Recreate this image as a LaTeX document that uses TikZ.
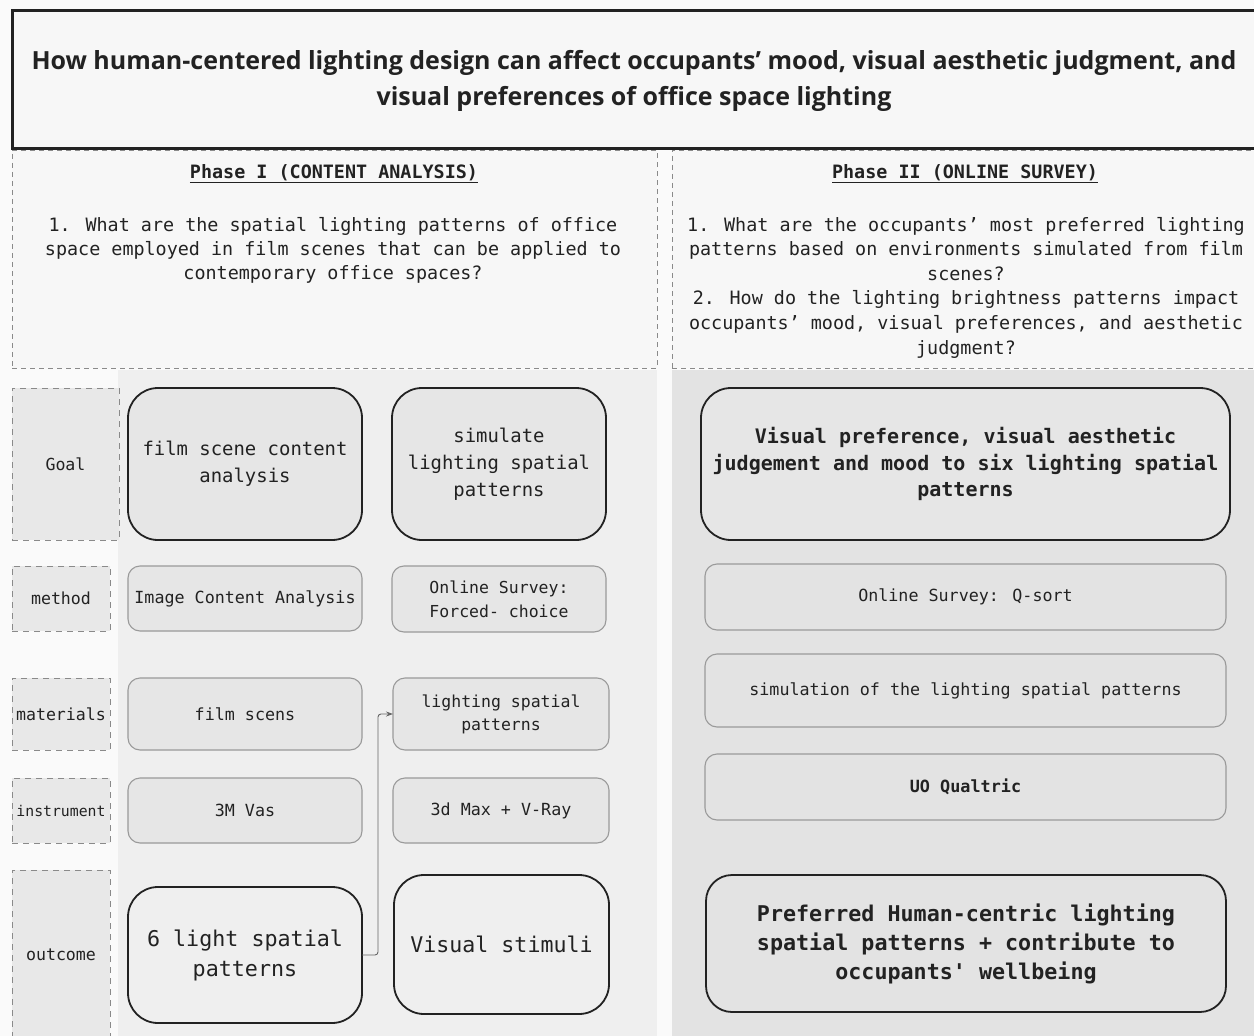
\documentclass[tikz,border=0pt]{standalone}
\usepackage{fontspec}
\newfontfamily\monof{DejaVu Sans Mono}
\newfontfamily\titlef{Open Sans}
\usetikzlibrary{arrows.meta}

\definecolor{ink}{HTML}{222222}
\definecolor{pagebg}{HTML}{FAFAFA}
\definecolor{panelbg}{HTML}{F7F7F7}
\definecolor{leftbg}{HTML}{EFEFEF}
\definecolor{rightbg}{HTML}{E3E3E3}
\definecolor{lblfill}{HTML}{E8E8E8}
\definecolor{boxfill}{HTML}{E6E6E6}
\definecolor{dashc}{HTML}{8A8A8A}
\definecolor{thinc}{HTML}{9A9A9A}
\definecolor{connc}{HTML}{666666}

% font size in pt (= px of the drawing) with baseline skip
\newcommand\fs[2]{\fontsize{#1}{#2}\selectfont\monof}

\begin{document}
\begin{tikzpicture}[x=1pt,y=-1pt,
  every node/.style={inner sep=0pt, outer sep=0pt, text=ink, align=center},
  titlebox/.style={draw=ink, line width=3pt, fill=panelbg},
  phasebox/.style={draw=dashc, line width=0.9pt, dash pattern=on 5pt off 4pt, fill=panelbg},
  lbl/.style={draw=dashc, line width=0.9pt, dash pattern=on 6pt off 5pt, fill=lblfill, font=\fs{16.6}{20}},
  bigbox/.style={draw=ink, line width=1.8pt, rounded corners=30pt, fill=boxfill},
  smallbox/.style={draw=thinc, line width=1.1pt, rounded corners=12pt, fill=boxfill},
  conn/.style={draw=connc, line width=0.9pt, rounded corners=3pt, -{Stealth[length=7pt,width=5pt]}},
]
\useasboundingbox (0,0) rectangle (1254,1036);
\fill[pagebg] (0,0) rectangle (1254,1036);

% section backgrounds
\fill[leftbg] (118,370) rectangle (657,1036);
\fill[rightbg] (672,370) rectangle (1254,1036);

% title
\node[titlebox, minimum width=1250pt, minimum height=138pt] (title) at (637,79) {};
\node[font={\titlef\bfseries\fontsize{25}{36}\selectfont}] (titletext) at (634,81) {%
  How human-centered lighting design can affect occupants’ mood, visual aesthetic judgment, and\\
  visual preferences of office space lighting};

% phase panels
\node[phasebox, minimum width=645pt, minimum height=218pt] (phaseA) at (334.5,259) {};
\node[phasebox, minimum width=590pt, minimum height=218pt] (phaseB) at (967,259) {};

\node[font={\fs{18.4}{22}\bfseries}] (headA) at (334,174) {\underline{Phase I (CONTENT ANALYSIS)}};
\node[font={\fs{18.4}{22}\bfseries}] (headB) at (965,174) {\underline{Phase II (ONLINE SURVEY)}};

\node[font=\fs{18.4}{24}] (qA) at (333,250) {%
  1. What are the spatial lighting patterns of office\\
  space employed in film scenes that can be applied to\\
  contemporary office spaces?};
\node[font=\fs{18.4}{24.6}] (qB) at (966,287.5) {%
  1. What are the occupants’ most preferred lighting\\
  patterns based on environments simulated from film\\
  scenes?\\
  2. How do the lighting brightness patterns impact\\
  occupants’ mood, visual preferences, and aesthetic\\
  judgment?};

% row labels
\node[lbl, minimum width=107pt, minimum height=152pt] (lgoal) at (65.5,464) {Goal};
\node[lbl, minimum width=98pt, minimum height=65pt] (lmethod) at (61,598.5) {method};
\node[lbl, minimum width=98pt, minimum height=72pt] (lmat) at (61,714) {materials};
\node[lbl, minimum width=98pt, minimum height=65pt, font=\fs{14.8}{18}] (linst) at (61,810.5) {instrument};
\node[lbl, minimum width=98pt, minimum height=170pt] (lout) at (61,955) {outcome};

% phase I, first column
\node[bigbox, minimum width=234pt, minimum height=152pt, font=\fs{18.9}{27}] (filmscene) at (245,464) {film scene content\\analysis};
\node[smallbox, minimum width=234pt, minimum height=65pt, font=\fs{16.7}{24}] (ica) at (245,598.5) {Image Content Analysis};
\node[smallbox, minimum width=234pt, minimum height=72pt, font=\fs{16.7}{24}] (scens) at (245,714) {film scens};
\node[smallbox, minimum width=234pt, minimum height=65pt, font=\fs{16.7}{24}] (vas) at (245,810.5) {3M Vas};
\node[bigbox, fill=leftbg, minimum width=234pt, minimum height=136pt, font=\fs{21.7}{30}] (six) at (245,955) {6 light spatial\\patterns};

% phase I, second column
\node[bigbox, minimum width=214pt, minimum height=152pt, font=\fs{18.9}{27}] (simulate) at (499,464) {simulate\\lighting spatial\\patterns};
\node[smallbox, minimum width=214pt, minimum height=66pt, font=\fs{16.5}{24}] (forced) at (499,599) {Online Survey:\\Forced- choice};
\node[smallbox, minimum width=216pt, minimum height=72pt, font=\fs{16.5}{23}] (lsp) at (501,714) {lighting spatial\\patterns};
\node[smallbox, minimum width=216pt, minimum height=65pt, font=\fs{16.7}{24}] (vray) at (501,810.5) {3d Max + V-Ray};
\node[bigbox, fill=leftbg, minimum width=215pt, minimum height=139pt, font=\fs{21.6}{30}] (stimuli) at (501.5,944.5) {Visual stimuli};

% phase II column
\node[bigbox, minimum width=529pt, minimum height=152pt, font={\fs{20}{26.5}\bfseries}] (vispref) at (965.5,464) {%
  Visual preference, visual aesthetic\\
  judgement and mood to six lighting spatial\\
  patterns};
\node[smallbox, fill=rightbg, minimum width=521pt, minimum height=66pt, font=\fs{16.7}{24}] (qsort) at (965.5,597) {Online Survey: Q-sort};
\node[smallbox, fill=rightbg, minimum width=521pt, minimum height=73pt, font=\fs{16.7}{24}] (simul) at (965.5,690.5) {simulation of the lighting spatial patterns};
\node[smallbox, fill=rightbg, minimum width=521pt, minimum height=66pt, font={\fs{16.8}{24}\bfseries}] (uo) at (965.5,787) {UO Qualtric};
\node[bigbox, fill=rightbg, rounded corners=26pt, minimum width=520pt, minimum height=137pt, font={\fs{21.7}{29}\bfseries}] (pref) at (966,943.5) {%
  Preferred Human-centric lighting\\
  spatial patterns + contribute to\\
  occupants' wellbeing};

% the patterns found in phase I feed the simulated patterns
\draw[conn] (six.east) -- ++(16,0) |- (lsp.west);
\end{tikzpicture}
\end{document}
